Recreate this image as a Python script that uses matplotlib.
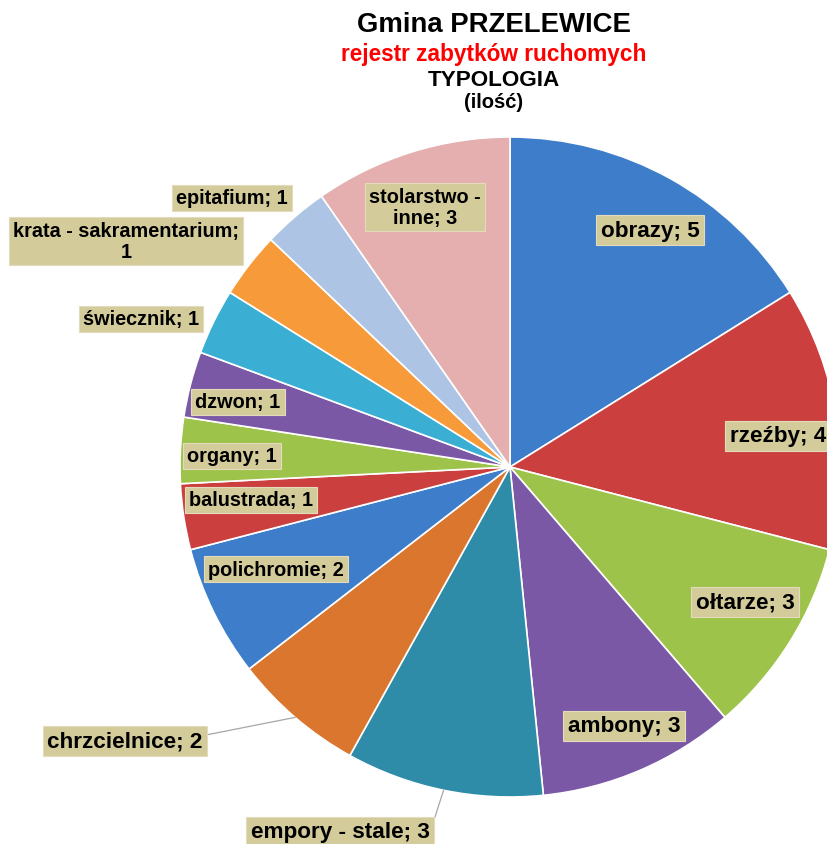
import numpy as np
import matplotlib
matplotlib.use('Agg')
from matplotlib import pyplot as plt

plt.rcParams['font.family'] = ['Liberation Sans', 'DejaVu Sans']

# data
categories = ['obrazy', 'rzeźby', 'ołtarze', 'ambony', 'empory - stale', 'chrzcielnice',
              'polichromie', 'balustrada', 'organy', 'dzwon', 'świecznik',
              'krata - sakramentarium', 'epitafium', 'stolarstwo - inne']
counts = [5, 4, 3, 3, 3, 2, 2, 1, 1, 1, 1, 1, 1, 3]
label_texts = ['obrazy; 5', 'rzeźby; 4', 'ołtarze; 3', 'ambony; 3', 'empory - stale; 3',
               'chrzcielnice; 2', 'polichromie; 2', 'balustrada; 1', 'organy; 1', 'dzwon; 1',
               'świecznik; 1', 'krata - sakramentarium;\n1', 'epitafium; 1', 'stolarstwo -\ninne; 3']

colors = ['#3D7DCA', '#CC3F3F', '#9DC34A', '#7B58A6', '#2E8CA8', '#DB762E',
          '#3D7DCA', '#CC3F3F', '#9DC34A', '#7B58A6', '#3AAED3', '#F79A3A',
          '#AEC4E5', '#E5AFAF']

# layout (pixel coords from top-left)
W, H = 828, 845
cx, cy, R = 510, 468, 330
label_pos = [(650, 231), (778, 437), (745, 603), (624, 727), (340, 833),
             (125, 742), (276, 570), (251, 501), (232, 457), (238, 403),
             (141, 320), (126, 242), (232, 199), (425, 208)]
label_size = [16.2, 16.2, 16.2, 16.2, 16.2, 16.2, 14.3, 14.3, 14.3, 14.3,
              14.3, 14.3, 14.3, 14.3]
leaders = {4: (435, 818), 5: (206, 736)}

fig = plt.figure(figsize=(W / 100, H / 100), dpi=100)
ax = fig.add_axes([0, 0, 1, 1])

wedges, _ = ax.pie(counts, colors=colors, startangle=90, counterclock=False,
                   center=(cx, H - cy), radius=R,
                   wedgeprops=dict(edgecolor='white', linewidth=1.2))
ax.set_xlim(0, W)
ax.set_ylim(0, H)
ax.axis('off')

box = dict(boxstyle='square,pad=0.2', facecolor='#D3CB9A', edgecolor='#E2DCBC', linewidth=0.8)
for i, txt in enumerate(label_texts):
    x, y = label_pos[i]
    ax.text(x, H - y, txt, ha='center', va='center', fontsize=label_size[i], fontweight='bold',
            multialignment='center', bbox=box, zorder=5, linespacing=1.1)

# leader lines to wedge edge
for i, (lx, ly) in leaders.items():
    w = wedges[i]
    ang = np.deg2rad((w.theta1 + w.theta2) / 2)
    ex = cx + R * np.cos(ang)
    ey = (H - cy) + R * np.sin(ang)
    ax.plot([lx, ex], [H - ly, ey], color='#A6A6A6', linewidth=0.9, zorder=4)

# titles
fig.text(494 / W, 1 - 25 / H, 'Gmina PRZELEWICE', ha='center', va='center',
         fontsize=19.8, fontweight='bold')
fig.text(494 / W, 1 - 55 / H, 'rejestr zabytków ruchomych', ha='center', va='center',
         fontsize=16.3, fontweight='bold', color='#FF0000')
fig.text(494 / W, 1 - 80 / H, 'TYPOLOGIA', ha='center', va='center',
         fontsize=16.2, fontweight='bold')
fig.text(494 / W, 1 - 103 / H, '(ilość)', ha='center', va='center',
         fontsize=14.5, fontweight='bold')

fig.savefig('out.png', dpi=100)
